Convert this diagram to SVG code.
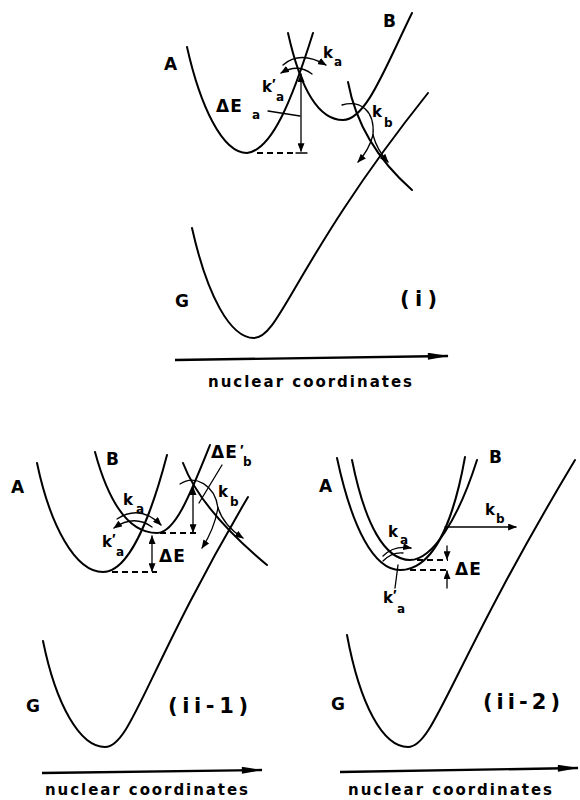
<svg xmlns="http://www.w3.org/2000/svg" width="580" height="800" viewBox="0 0 580 800">
<defs>
<style>
.c{fill:none;stroke:#000;stroke-width:2;stroke-linecap:round}
.t{fill:none;stroke:#000;stroke-width:1.3;stroke-linecap:round}
.d{fill:none;stroke:#000;stroke-width:1.8;stroke-dasharray:6 4}
.ax{fill:none;stroke:#000;stroke-width:2.4}
.lab{font-family:"DejaVu Sans","Liberation Sans",sans-serif;font-weight:bold;font-size:17px;fill:#000}
.k{font-family:"DejaVu Sans","Liberation Sans",sans-serif;font-weight:bold;font-size:15px;fill:#000}
.sub{font-size:12px}
.pr{font-family:"Liberation Sans","DejaVu Sans",sans-serif;font-size:15px}
.nc{font-family:"DejaVu Sans","Liberation Sans",sans-serif;font-weight:bold;font-size:15px;fill:#000}
.pn{font-family:"DejaVu Sans","Liberation Sans",sans-serif;font-weight:bold;font-size:21px;fill:#000}
</style>
<marker id="ah" viewBox="0 0 10 8" refX="9" refY="4" markerWidth="9" markerHeight="7" markerUnits="userSpaceOnUse" orient="auto-start-reverse"><path d="M0,0 L10,4 L0,8 z" fill="#000"/></marker>
<marker id="ax" viewBox="0 0 24 8" refX="23" refY="4" markerWidth="22" markerHeight="7" markerUnits="userSpaceOnUse" orient="auto"><path d="M0,0 L24,4 L0,8 z" fill="#000"/></marker>
</defs>

<!-- Panel (i) -->
<g id="panel-i">
<g id="i-curves">
<path class="c" d="M187,47 C200,105 222,153 247,153 C272,150 292,100 313,33"/>
<path class="c" d="M288,33 C298,78 315,120 343,120 C366,120 385,68 412,13"/>
<path class="c" d="M348,82 C356,125 378,160 412,190"/>
<path class="c" d="M192,228 C207,295 230,338 254,338 C280,338 295,260 428,93"/>
</g>
<g id="i-connectors">
<path class="t" d="M283,65 Q300,50 326,65" marker-end="url(#ah)"/>
<path class="t" d="M312,74 Q298,63 281,73" marker-end="url(#ah)"/>
<line class="t" x1="301" y1="74" x2="301" y2="151" marker-start="url(#ah)" marker-end="url(#ah)"/>
<line class="t" x1="296" y1="153" x2="307" y2="153"/>
<line class="d" x1="257" y1="153" x2="296" y2="153"/>
<line class="t" x1="268" y1="111" x2="300" y2="116"/>
<path class="t" d="M342,105 C360,100 375,110 373,135"/>
<path class="t" d="M373,135 Q369,150 358,162" marker-end="url(#ah)"/>
<path class="t" d="M373,135 Q377,150 388,162" marker-end="url(#ah)"/>
<line class="ax" x1="175" y1="360" x2="448" y2="356" marker-end="url(#ax)"/>
</g>
<g id="i-labels">
<text class="lab" x="164" y="70">A</text>
<text class="lab" x="383" y="27">B</text>
<text class="lab" x="175" y="307">G</text>
<text class="k" x="323" y="58">k<tspan class="sub" x="334" y="66">a</tspan></text>
<text class="k" x="262" y="92">k<tspan class="pr" x="272" y="89">′</tspan><tspan class="sub" x="276" y="101">a</tspan></text>
<text class="lab" x="216" y="112" letter-spacing="1">ΔE<tspan class="sub" font-size="14" x="252" y="119">a</tspan></text>
<text class="k" x="372" y="117">k<tspan class="sub" x="384" y="127">b</tspan></text>
<text class="pn" x="400" y="306" textLength="37" lengthAdjust="spacing">(i)</text>
<text class="nc" x="208" y="387" textLength="204" lengthAdjust="spacing">nuclear  coordinates</text>
</g>
</g>

<!-- Panel (ii-1) -->
<g id="panel-ii-1">
<g id="ii1-curves">
<path class="c" d="M37,463 C50,525 75,572 103,572 C128,572 150,520 167,455"/>
<path class="c" d="M95,452 C108,500 128,533 157,533 C175,533 190,495 210,445"/>
<path class="c" d="M183,463 C195,495 225,530 267,565"/>
<path class="c" d="M43,641 C56,705 80,747 105,747 C131,747 146,670 248,497"/>
</g>
<g id="ii1-connectors">
<path class="t" d="M117,519 Q140,504 161,525" marker-end="url(#ah)"/>
<path class="t" d="M152,527 Q134,514 114,528" marker-end="url(#ah)"/>
<line class="t" x1="152" y1="536" x2="152" y2="571" marker-start="url(#ah)" marker-end="url(#ah)"/>
<line class="d" x1="112" y1="572" x2="157" y2="572"/>
<line class="d" x1="160" y1="533" x2="198" y2="533"/>
<line class="t" x1="193" y1="487" x2="193" y2="532" marker-start="url(#ah)" marker-end="url(#ah)"/>
<line class="t" x1="222" y1="465" x2="199" y2="503"/>
<path class="t" d="M180,484 C195,474 215,485 218,508"/>
<path class="t" d="M218,508 Q214,530 202,548" marker-end="url(#ah)"/>
<path class="t" d="M218,508 Q224,526 243,538" marker-end="url(#ah)"/>
<line class="ax" x1="42" y1="773" x2="262" y2="770" marker-end="url(#ax)"/>
</g>
<g id="ii1-labels">
<text class="lab" x="11" y="493">A</text>
<text class="lab" x="106" y="465">B</text>
<text class="lab" x="26" y="712">G</text>
<text class="k" x="123" y="505">k<tspan class="sub" x="136" y="513">a</tspan></text>
<text class="k" x="102" y="547">k<tspan class="pr" x="112" y="544">′</tspan><tspan class="sub" x="116" y="556">a</tspan></text>
<text class="lab" x="159" y="562" letter-spacing="1">ΔE</text>
<text class="lab" font-size="15" x="211" y="458" letter-spacing="1">ΔE<tspan class="pr" x="240" y="455">′</tspan><tspan class="sub" font-size="14" x="243" y="466">b</tspan></text>
<text class="k" x="218" y="497">k<tspan class="sub" x="230" y="506">b</tspan></text>
<text class="pn" x="168" y="713" textLength="80" lengthAdjust="spacing">(ii-1)</text>
<text class="nc" x="45" y="795" textLength="203" lengthAdjust="spacing">nuclear  coordinates</text>
</g>
</g>

<!-- Panel (ii-2) -->
<g id="panel-ii-2">
<g id="ii2-curves">
<path class="c" d="M337,458 C352,528 374,570 400,570 C430,570 452,530 465,457"/>
<path class="c" d="M352,460 C365,525 385,560 410,560 C432,560 458,520 477,460"/>
<path class="c" d="M347,635 C360,705 383,747 408,747 C434,747 449,670 575,460"/>
</g>
<g id="ii2-connectors">
<path class="t" d="M383,556 Q394,545 411,548" marker-end="url(#ah)"/>
<path class="t" d="M403,553 Q392,552 383,561"/>
<line class="t" x1="398" y1="565" x2="395" y2="588"/>
<line class="t" x1="445" y1="527" x2="516" y2="527" marker-end="url(#ah)"/>
<line class="d" x1="417" y1="560" x2="448" y2="560"/>
<line class="d" x1="410" y1="570" x2="447" y2="570"/>
<line class="t" x1="447" y1="546" x2="447" y2="559" marker-end="url(#ah)"/>
<line class="t" x1="447" y1="588" x2="447" y2="571" marker-end="url(#ah)"/>
<line class="ax" x1="340" y1="772" x2="578" y2="768" marker-end="url(#ax)"/>
</g>
<g id="ii2-labels">
<text class="lab" x="319" y="492">A</text>
<text class="lab" x="489" y="463">B</text>
<text class="lab" x="331" y="710">G</text>
<text class="k" x="388" y="537">k<tspan class="sub" x="400" y="544">a</tspan></text>
<text class="k" x="383" y="603">k<tspan class="pr" x="393" y="600">′</tspan><tspan class="sub" x="397" y="613">a</tspan></text>
<text class="k" x="485" y="515">k<tspan class="sub" x="496" y="523">b</tspan></text>
<text class="lab" x="455" y="575" letter-spacing="1">ΔE</text>
<text class="pn" x="483" y="709" textLength="77" lengthAdjust="spacing">(ii-2)</text>
<text class="nc" x="348" y="795" textLength="204" lengthAdjust="spacing">nuclear  coordinates</text>
</g>
</g>
</svg>
